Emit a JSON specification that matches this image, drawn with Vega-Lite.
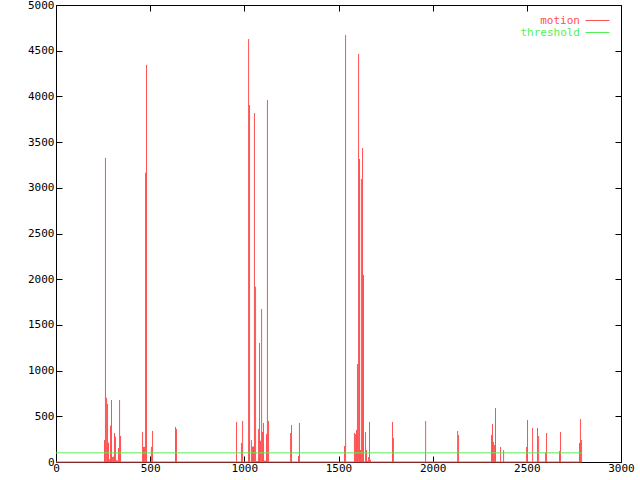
{
  "$schema": "https://vega.github.io/schema/vega-lite/v6.json",
  "width": 565,
  "height": 457,
  "autosize": {"type": "none"},
  "padding": {"left": 56, "top": 5, "right": 19, "bottom": 18},
  "background": "white",
  "config": {
    "view": {"stroke": "black", "strokeWidth": 1, "fill": "white"},
    "axis": {
      "domain": false,
      "grid": false,
      "labelFont": "DejaVu Sans Mono",
      "labelFontSize": 11,
      "labelColor": "black",
      "labelFlush": false,
      "labelOverlap": false,
      "format": "d",
      "title": null
    }
  },
  "datasets": {
    "motion": [
      {"frame": 255, "motion": 240}, {"frame": 260, "motion": 3326}, {"frame": 266, "motion": 703},
      {"frame": 271, "motion": 635}, {"frame": 276, "motion": 211}, {"frame": 281, "motion": 30},
      {"frame": 287, "motion": 397}, {"frame": 292, "motion": 678}, {"frame": 297, "motion": 55},
      {"frame": 303, "motion": 60}, {"frame": 308, "motion": 317}, {"frame": 313, "motion": 277},
      {"frame": 319, "motion": 20}, {"frame": 324, "motion": 15}, {"frame": 329, "motion": 153},
      {"frame": 335, "motion": 678}, {"frame": 340, "motion": 284},
      {"frame": 457, "motion": 328}, {"frame": 462, "motion": 164}, {"frame": 467, "motion": 166},
      {"frame": 473, "motion": 3166}, {"frame": 478, "motion": 4345}, {"frame": 504, "motion": 166},
      {"frame": 510, "motion": 340},
      {"frame": 632, "motion": 383}, {"frame": 637, "motion": 361},
      {"frame": 956, "motion": 438}, {"frame": 982, "motion": 208}, {"frame": 988, "motion": 449},
      {"frame": 1020, "motion": 4628}, {"frame": 1025, "motion": 3906}, {"frame": 1035, "motion": 240},
      {"frame": 1041, "motion": 168}, {"frame": 1046, "motion": 170}, {"frame": 1051, "motion": 3818},
      {"frame": 1057, "motion": 1918}, {"frame": 1062, "motion": 10}, {"frame": 1067, "motion": 10},
      {"frame": 1073, "motion": 361}, {"frame": 1078, "motion": 1302}, {"frame": 1083, "motion": 233},
      {"frame": 1089, "motion": 1674}, {"frame": 1094, "motion": 328}, {"frame": 1099, "motion": 427},
      {"frame": 1104, "motion": 15}, {"frame": 1110, "motion": 15}, {"frame": 1115, "motion": 306},
      {"frame": 1120, "motion": 3960}, {"frame": 1126, "motion": 449},
      {"frame": 1243, "motion": 317}, {"frame": 1248, "motion": 405}, {"frame": 1285, "motion": 66},
      {"frame": 1290, "motion": 427},
      {"frame": 1529, "motion": 175}, {"frame": 1535, "motion": 4671}, {"frame": 1582, "motion": 317},
      {"frame": 1588, "motion": 306}, {"frame": 1593, "motion": 350}, {"frame": 1598, "motion": 1072},
      {"frame": 1604, "motion": 4464}, {"frame": 1609, "motion": 3315}, {"frame": 1614, "motion": 131},
      {"frame": 1619, "motion": 3096}, {"frame": 1625, "motion": 3435}, {"frame": 1630, "motion": 2046},
      {"frame": 1641, "motion": 328}, {"frame": 1646, "motion": 131}, {"frame": 1651, "motion": 10},
      {"frame": 1657, "motion": 55}, {"frame": 1662, "motion": 438}, {"frame": 1667, "motion": 22},
      {"frame": 1784, "motion": 438}, {"frame": 1789, "motion": 263},
      {"frame": 1960, "motion": 449},
      {"frame": 2130, "motion": 339}, {"frame": 2135, "motion": 295},
      {"frame": 2310, "motion": 295}, {"frame": 2315, "motion": 416}, {"frame": 2320, "motion": 219},
      {"frame": 2326, "motion": 186}, {"frame": 2331, "motion": 591}, {"frame": 2358, "motion": 164},
      {"frame": 2374, "motion": 131},
      {"frame": 2496, "motion": 164}, {"frame": 2501, "motion": 460}, {"frame": 2528, "motion": 372},
      {"frame": 2554, "motion": 372}, {"frame": 2560, "motion": 284}, {"frame": 2597, "motion": 109},
      {"frame": 2602, "motion": 317}, {"frame": 2671, "motion": 120}, {"frame": 2676, "motion": 328},
      {"frame": 2777, "motion": 208}, {"frame": 2782, "motion": 470}, {"frame": 2788, "motion": 240}
    ],
    "levels": [
      {"series": "motion", "start": 0, "end": 2793, "level": 0},
      {"series": "threshold", "start": 0, "end": 2793, "level": 100}
    ]
  },
  "resolve": {"axis": {"x": "independent", "y": "independent"}},
  "layer": [
    {
      "data": {"name": "motion"},
      "mark": {"type": "rule", "color": "#ff5050", "strokeWidth": 1, "xOffset": 0.5},
      "encoding": {
        "x": {"field": "frame", "type": "quantitative",
              "scale": {"domain": [0, 3000], "nice": false, "zero": false},
              "axis": {"orient": "bottom", "values": [0, 500, 1000, 1500, 2000, 2500, 3000],
                       "ticks": true, "tickSize": -6, "tickColor": "black", "tickWidth": 1, "labelPadding": 6}},
        "y": {"field": "motion", "type": "quantitative",
              "scale": {"domain": [0, 5000], "nice": false},
              "axis": {"orient": "left", "values": [0, 500, 1000, 1500, 2000, 2500, 3000, 3500, 4000, 4500, 5000],
                       "ticks": true, "tickSize": -6, "tickColor": "black", "tickWidth": 1, "labelPadding": 8}},
        "y2": {"datum": 0}
      }
    },
    {
      "data": {"name": "levels"},
      "mark": {"type": "rule", "strokeWidth": 1},
      "encoding": {
        "x": {"field": "start", "type": "quantitative",
              "axis": {"orient": "top", "labels": false, "values": [0, 500, 1000, 1500, 2000, 2500, 3000],
                       "ticks": true, "tickSize": -6, "tickColor": "black", "tickWidth": 1}},
        "x2": {"field": "end"},
        "y": {"field": "level", "type": "quantitative",
              "axis": {"orient": "right", "labels": false, "values": [0, 500, 1000, 1500, 2000, 2500, 3000, 3500, 4000, 4500, 5000],
                       "ticks": true, "tickSize": -6, "tickColor": "black", "tickWidth": 1}},
        "color": {
          "field": "series", "type": "nominal",
          "scale": {"domain": ["motion", "threshold"], "range": ["#ff5050", "#55f055"]},
          "legend": {
            "title": null,
            "orient": "none",
            "legendX": 526,
            "legendY": 10,
            "symbolType": "M-1,0H11",
            "symbolSize": 16,
            "symbolStrokeWidth": 1,
            "labelAlign": "right",
            "labelOffset": -13,
            "labelFont": "DejaVu Sans Mono",
            "labelFontSize": 11,
            "rowPadding": 0,
            "encode": {"labels": {"update": {"fill": {"scale": "color", "field": "value"}}}}
          }
        }
      }
    }
  ]
}
